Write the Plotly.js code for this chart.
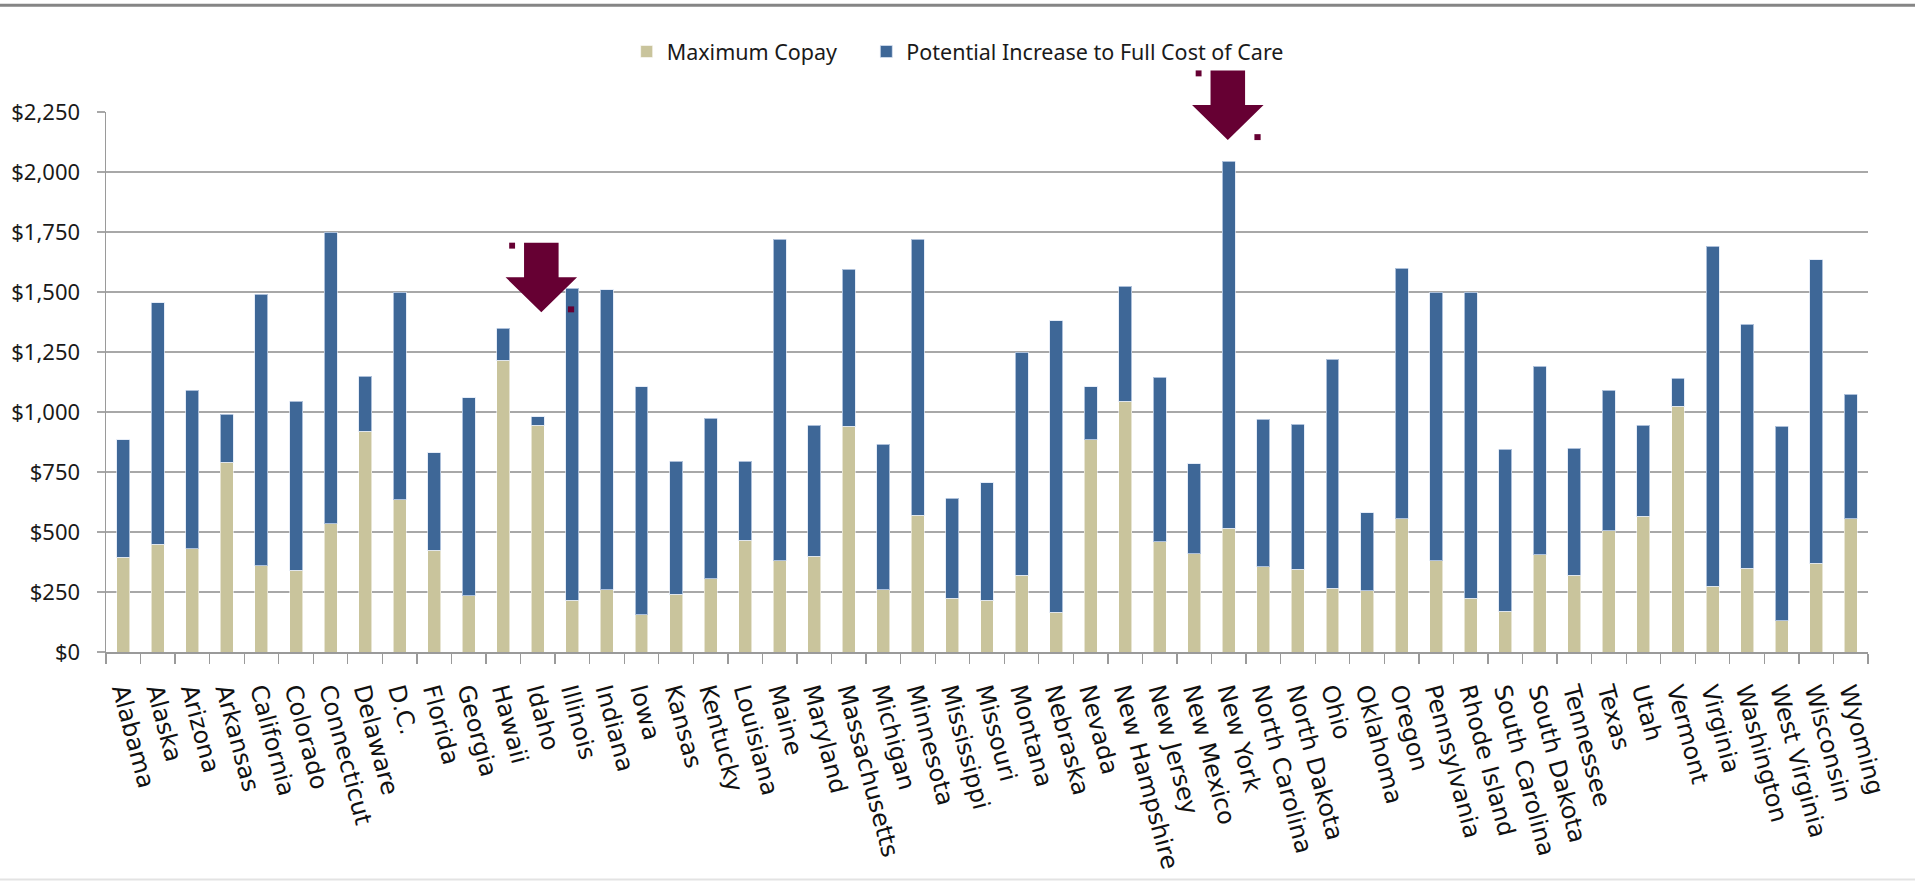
<!DOCTYPE html>
<html>
<head>
<meta charset="utf-8">
<script src="https://cdn.plot.ly/plotly-3.0.1.min.js"></script>
<style>
  html, body { margin: 0; padding: 0; background: #ffffff; }
  #chart { width: 1915px; height: 882px; }
</style>
</head>
<body>
<div id="chart"></div>
<script>
const categories = ["Alabama","Alaska","Arizona","Arkansas","California","Colorado","Connecticut","Delaware","D.C.","Florida","Georgia","Hawaii","Idaho","Illinois","Indiana","Iowa","Kansas","Kentucky","Louisiana","Maine","Maryland","Massachusetts","Michigan","Minnesota","Mississippi","Missouri","Montana","Nebraska","Nevada","New Hampshire","New Jersey","New Mexico","New York","North Carolina","North Dakota","Ohio","Oklahoma","Oregon","Pennsylvania","Rhode Island","South Carolina","South Dakota","Tennessee","Texas","Utah","Vermont","Virginia","Washington","West Virginia","Wisconsin","Wyoming"];

const maxCopay = [395,450,430,790,360,340,535,920,635,425,235,1215,945,215,260,155,240,305,465,380,400,940,260,570,225,215,320,165,885,1045,460,410,515,355,345,265,255,555,380,225,170,405,320,505,565,1025,275,350,130,370,555];

const potentialIncrease = [490,1005,660,200,1130,705,1215,230,865,405,825,135,35,1300,1250,950,555,670,330,1340,545,655,605,1150,415,490,930,1215,220,480,685,375,1530,615,605,955,325,1045,1120,1275,675,785,530,585,380,115,1415,1015,810,1265,520];

const seriesNames = ["Maximum Copay", "Potential Increase to Full Cost of Care"];
const yTicks = [0,250,500,750,1000,1250,1500,1750,2000,2250];
const yTickText = yTicks.map(v => "$" + v.toLocaleString("en-US"));

// decorative arrows pointing at categories (position relative to category index, paper units vertically)
const arrowTargets = ["Idaho", "New York"];
const arrowOffsets = [0.1, -0.03];
const arrowTops = [0.758, 1.077];

const nCat = categories.length;
const catToPaper = (idx) => (idx + 0.5) / nCat;

const shapes = [];
const arrowColor = "#660033";
arrowTargets.forEach((cat, k) => {
  const c = categories.indexOf(cat) + arrowOffsets[k];
  const top = arrowTops[k];
  const shaftH = 0.064, headH = 0.065;
  const sx0 = catToPaper(c - 0.5), sx1 = catToPaper(c + 0.5);
  const wx0 = catToPaper(c - 1.035), wx1 = catToPaper(c + 1.035);
  const tip = catToPaper(c);
  const yW = top - shaftH, yT = top - shaftH - headH;
  shapes.push({
    type: "path", xref: "paper", yref: "paper", layer: "above",
    path: `M ${sx0} ${top} L ${sx1} ${top} L ${sx1} ${yW} L ${wx1} ${yW} L ${tip} ${yT} L ${wx0} ${yW} L ${sx0} ${yW} Z`,
    fillcolor: arrowColor, line: { width: 0 }
  });
  // small handle squares
  shapes.push({
    type: "rect", xref: "paper", yref: "paper", layer: "above",
    x0: catToPaper(c - 0.93), x1: catToPaper(c - 0.76), y0: top - 0.011, y1: top,
    fillcolor: arrowColor, line: { width: 0 }
  });
  shapes.push({
    type: "rect", xref: "paper", yref: "paper", layer: "above",
    x0: catToPaper(c + 0.77), x1: catToPaper(c + 0.95), y0: yT, y1: yT + 0.011,
    fillcolor: arrowColor, line: { width: 0 }
  });
});

// frame lines at top and bottom of the picture
shapes.push({ type: "line", xref: "paper", yref: "paper", x0: -0.07, x1: 1.05, y0: 1.1976, y1: 1.1976,
  line: { color: "#858585", width: 3 } });
shapes.push({ type: "line", xref: "paper", yref: "paper", x0: -0.07, x1: 1.05, y0: -0.4215, y1: -0.4215,
  line: { color: "#e3e3e3", width: 2 } });

const traces = [
  {
    type: "bar", name: seriesNames[0], x: categories, y: maxCopay,
    marker: { color: "#C9C49C", line: { color: "rgba(255,255,255,0.55)", width: 1 } },
    legend: "legend",
    hoverinfo: "x+y+name"
  },
  {
    type: "bar", name: seriesNames[1], x: categories, y: potentialIncrease,
    marker: { color: "#3E6797", line: { color: "rgba(220,230,245,0.7)", width: 1 } },
    legend: "legend2",
    hoverinfo: "x+y+name"
  }
];

const legendFont = { family: "Noto Sans, sans-serif", size: 21.5, color: "#1a1a1a" };

const layout = {
  width: 1915, height: 882,
  margin: { l: 106, r: 47, t: 112, b: 230, autoexpand: false },
  paper_bgcolor: "#ffffff", plot_bgcolor: "#ffffff",
  barmode: "stack",
  bargap: 0.625,
  showlegend: true,
  legend: {
    orientation: "h",
    x: 0.2955, xanchor: "left", y: 1.112, yanchor: "middle",
    font: legendFont, itemwidth: 30, bgcolor: "rgba(0,0,0,0)"
  },
  legend2: {
    orientation: "h",
    x: 0.4315, xanchor: "left", y: 1.112, yanchor: "middle",
    font: legendFont, itemwidth: 30, bgcolor: "rgba(0,0,0,0)"
  },
  xaxis: {
    type: "category",
    tickson: "boundaries",
    ticks: "outside", ticklen: 10, tickwidth: 1.3, tickcolor: "#9a9a9a",
    showline: true, linecolor: "#9a9a9a", linewidth: 1.5,
    showgrid: false, zeroline: false,
    tickangle: 75,
    ticklabelstandoff: 14,
    tickfont: { family: "DejaVu Sans, sans-serif", size: 24, color: "#111111" },
    automargin: false,
    fixedrange: true
  },
  yaxis: {
    range: [0, 2250],
    tickmode: "array",
    tickvals: yTicks,
    ticktext: yTickText,
    ticks: "outside", ticklen: 8, tickwidth: 1.3, tickcolor: "#a8a8a8",
    showline: true, linecolor: "#9a9a9a", linewidth: 1.5,
    showgrid: true, gridcolor: "#a8a8a8", gridwidth: 1.4,
    zeroline: false,
    ticklabelstandoff: 12,
    tickfont: { family: "Noto Sans, sans-serif", size: 22, color: "#1a1a1a" },
    automargin: false,
    fixedrange: true
  },
  shapes: shapes
};

Plotly.newPlot("chart", traces, layout, { displayModeBar: false, staticPlot: true });
</script>
</body>
</html>
